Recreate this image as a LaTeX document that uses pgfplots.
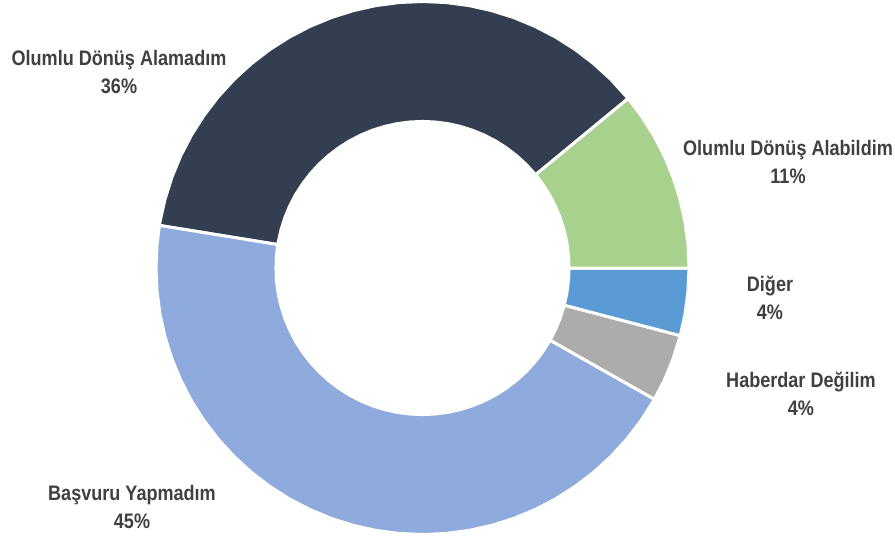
\documentclass[border=0pt]{standalone}
\usepackage{fontspec}
\setmainfont{Liberation Sans}[FakeStretch=0.86]
\usepackage{pgfplots}
\pgfplotsset{compat=1.18}
\usepgfplotslibrary{polar}

\definecolor{cDark}{HTML}{333F50}
\definecolor{cGreen}{HTML}{A9D18E}
\definecolor{cBlue}{HTML}{5B9BD5}
\definecolor{cGray}{HTML}{AEABAB}
\definecolor{cLight}{HTML}{8FAADC}
\definecolor{cText}{HTML}{404040}

\begin{document}
\begin{tikzpicture}
\useasboundingbox (0,0) rectangle (895pt,542pt);
% shares: Alamadim 36.5, Alabildim 11.0, Diger 4.1, Haberdar Degilim 4.1, Basvuru Yapmadim 44.3
% sector edges in degrees: 39.5 | 0 | -14.7 | -29.5 | 170.8
\begin{polaraxis}[
    at={(422.5pt,274pt)}, anchor=center,
    scale only axis, width=533pt, height=533pt,
    ymin=0, ymax=1,
    hide axis, clip=false,
    every axis plot/.append style={draw=white, line width=3pt, line join=miter},
]
% Olumlu Donus Alamadim
\addplot[fill=cDark] coordinates {
    (39.5,1) (45,1) (50,1) (55,1) (60,1) (65,1) (70,1) (75,1) (80,1) (85,1) (90,1) (95,1) (100,1) (105,1) (110,1) (115,1) (120,1) (125,1) (130,1) (135,1) (140,1) (145,1) (150,1) (155,1) (160,1) (165,1) (170,1) (170.8,1)
    (170.8,0.55) (170,0.55) (165,0.55) (160,0.55) (155,0.55) (150,0.55) (145,0.55) (140,0.55) (135,0.55) (130,0.55) (125,0.55) (120,0.55) (115,0.55) (110,0.55) (105,0.55) (100,0.55) (95,0.55) (90,0.55) (85,0.55) (80,0.55) (75,0.55) (70,0.55) (65,0.55) (60,0.55) (55,0.55) (50,0.55) (45,0.55) (39.5,0.55)
} -- cycle;
% Basvuru Yapmadim
\addplot[fill=cLight] coordinates {
    (170.8,1) (175,1) (180,1) (185,1) (190,1) (195,1) (200,1) (205,1) (210,1) (215,1) (220,1) (225,1) (230,1) (235,1) (240,1) (245,1) (250,1) (255,1) (260,1) (265,1) (270,1) (275,1) (280,1) (285,1) (290,1) (295,1) (300,1) (305,1) (310,1) (315,1) (320,1) (325,1) (330,1) (330.5,1)
    (330.5,0.55) (330,0.55) (325,0.55) (320,0.55) (315,0.55) (310,0.55) (305,0.55) (300,0.55) (295,0.55) (290,0.55) (285,0.55) (280,0.55) (275,0.55) (270,0.55) (265,0.55) (260,0.55) (255,0.55) (250,0.55) (245,0.55) (240,0.55) (235,0.55) (230,0.55) (225,0.55) (220,0.55) (215,0.55) (210,0.55) (205,0.55) (200,0.55) (195,0.55) (190,0.55) (185,0.55) (180,0.55) (175,0.55) (170.8,0.55)
} -- cycle;
% Haberdar Degilim
\addplot[fill=cGray] coordinates {
    (330.5,1) (335,1) (340,1) (345.3,1)
    (345.3,0.55) (340,0.55) (335,0.55) (330.5,0.55)
} -- cycle;
% Diger
\addplot[fill=cBlue] coordinates {
    (345.3,1) (350,1) (355,1) (360,1)
    (360,0.55) (355,0.55) (350,0.55) (345.3,0.55)
} -- cycle;
% Olumlu Donus Alabildim
\addplot[fill=cGreen] coordinates {
    (0,1) (5,1) (10,1) (15,1) (20,1) (25,1) (30,1) (35,1) (39.5,1)
    (39.5,0.55) (35,0.55) (30,0.55) (25,0.55) (20,0.55) (15,0.55) (10,0.55) (5,0.55) (0,0.55)
} -- cycle;
\end{polaraxis}

\tikzset{lbl/.style={font=\fontsize{21}{28}\selectfont\bfseries, text=cText, align=center, inner sep=0pt}}
\node[lbl] at (119pt,470pt) {Olumlu Dönüş Alamadım\\36\%};
\node[lbl] at (788pt,380pt) {Olumlu Dönüş Alabildim\\11\%};
\node[lbl] at (770pt,244pt) {Diğer\\4\%};
\node[lbl] at (801pt,148pt) {Haberdar Değilim\\4\%};
\node[lbl] at (132pt,35pt) {Başvuru Yapmadım\\45\%};
\end{tikzpicture}
\end{document}
